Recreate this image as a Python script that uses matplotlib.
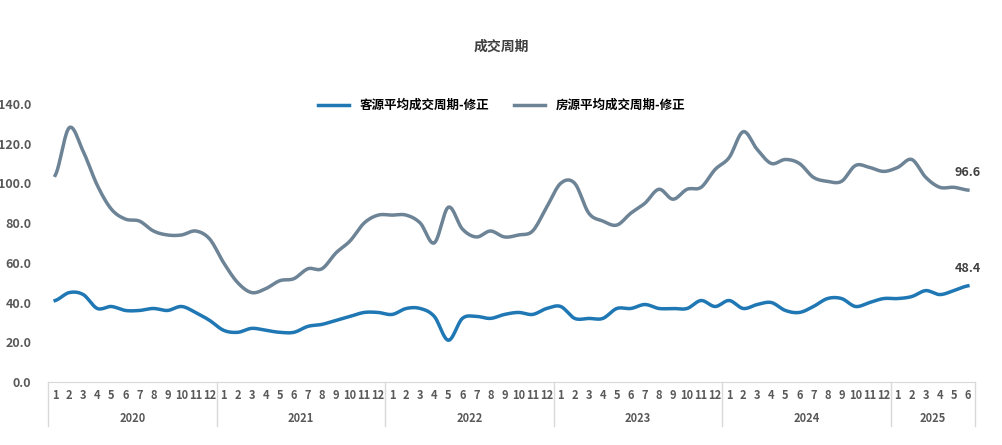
import matplotlib.pyplot as plt
import numpy as np

plt.rcParams['font.family'] = ['Noto Sans CJK SC', 'DejaVu Sans']

years = ['2020', '2021', '2022', '2023', '2024', '2025']
months_per_year = [12, 12, 12, 12, 12, 6]
buyer = [41, 45, 44, 37, 38, 36, 36, 37, 36, 38, 35, 31,
         26, 25, 27, 26, 25, 25, 28, 29, 31, 33, 35, 35,
         34, 37, 37, 33, 21, 32, 33, 32, 34, 35, 34, 37,
         38, 32, 32, 32, 37, 37, 39, 37, 37, 37, 41, 38,
         41, 37, 39, 40, 36, 35, 38, 42, 42, 38, 40, 42,
         42, 43, 46, 44, 46, 48.4]
house = [104, 128, 116, 99, 87, 82, 81, 76, 74, 74, 76, 72,
         60, 50, 45, 47, 51, 52, 57, 57, 65, 71, 80, 84,
         84, 84, 80, 70, 88, 77, 73, 76, 73, 74, 76, 88,
         100, 100, 85, 81, 79, 85, 90, 97, 92, 97, 98, 107,
         113, 126, 117, 110, 112, 110, 103, 101, 101, 109, 108, 106,
         108, 112, 103, 98, 98, 96.6]
labels = ['客源平均成交周期-修正', '房源平均成交周期-修正']
colors = ['#1f77b4', '#6d8396']


def smooth(y, n=12):
    # Catmull-Rom spline through the points
    y = np.asarray(y, float)
    p = np.concatenate([[y[0]], y, [y[-1]]])
    xs, ys = [], []
    for i in range(len(y) - 1):
        t = np.linspace(0, 1, n, endpoint=False)
        p0, p1, p2, p3 = p[i], p[i + 1], p[i + 2], p[i + 3]
        v = 0.5 * ((2 * p1) + (-p0 + p2) * t + (2 * p0 - 5 * p1 + 4 * p2 - p3) * t ** 2
                   + (-p0 + 3 * p1 - 3 * p2 + p3) * t ** 3)
        xs.append(i + t)
        ys.append(v)
    xs.append([len(y) - 1])
    ys.append([y[-1]])
    return np.concatenate(xs), np.concatenate(ys)


fig = plt.figure(figsize=(10.03, 4.45), dpi=100)
ax = fig.add_axes([0.048, 0.1416, 0.924, 0.625])
n = len(buyer)
for data, lab, c in zip([buyer, house], labels, colors):
    sx, sy = smooth(data)
    ax.plot(sx, sy, color=c, lw=2.5, label=lab)
ax.annotate('%.1f' % house[-1], (n - 1, house[-1]), xytext=(0, 10), textcoords='offset points',
            ha='center', fontsize=9, fontweight='bold', color='#404040')
ax.annotate('%.1f' % buyer[-1], (n - 1, buyer[-1]), xytext=(0, 10), textcoords='offset points',
            ha='center', fontsize=9, fontweight='bold', color='#404040')

ax.set_xlim(-0.5, n - 0.5)
ax.set_ylim(0, 140)
ax.set_yticks(np.arange(0, 141, 20))
ax.set_yticklabels(['%.1f' % v for v in np.arange(0, 141, 20)], fontsize=9,
                   fontweight='bold', color='#595959')
ax.tick_params(axis='y', length=0, pad=12)
ax.set_xticks([])
for s in ['top', 'right', 'left']:
    ax.spines[s].set_visible(False)
ax.spines['bottom'].set_color('#d9d9d9')

# two-level category axis
tr = ax.get_xaxis_transform()
pos = 0
ax.plot([-0.5, -0.5], [0, -0.16], transform=tr, color='#d9d9d9', lw=1, clip_on=False)
for yr, m in zip(years, months_per_year):
    for k in range(m):
        ax.text(pos + k, -0.05, str(k + 1), transform=tr, ha='center', va='center',
                fontsize=8, fontweight='bold', color='#595959')
    ax.text(pos + (m - 1) / 2, -0.13, yr, transform=tr, ha='center', va='center',
            fontsize=8, fontweight='bold', color='#595959')
    pos += m
    ax.plot([pos - 0.5, pos - 0.5], [0, -0.16], transform=tr, color='#d9d9d9', lw=1, clip_on=False)

fig.text(0.5, 0.895, '成交周期', ha='center', va='center', fontsize=10, fontweight='bold', color='#404040')
fig.legend(loc='center', bbox_to_anchor=(0.5, 0.763), ncol=2, frameon=False, fontsize=9,
           handlelength=2.5, columnspacing=2, prop={'weight': 'bold', 'size': 9})
fig.savefig('out.png', dpi=100)
